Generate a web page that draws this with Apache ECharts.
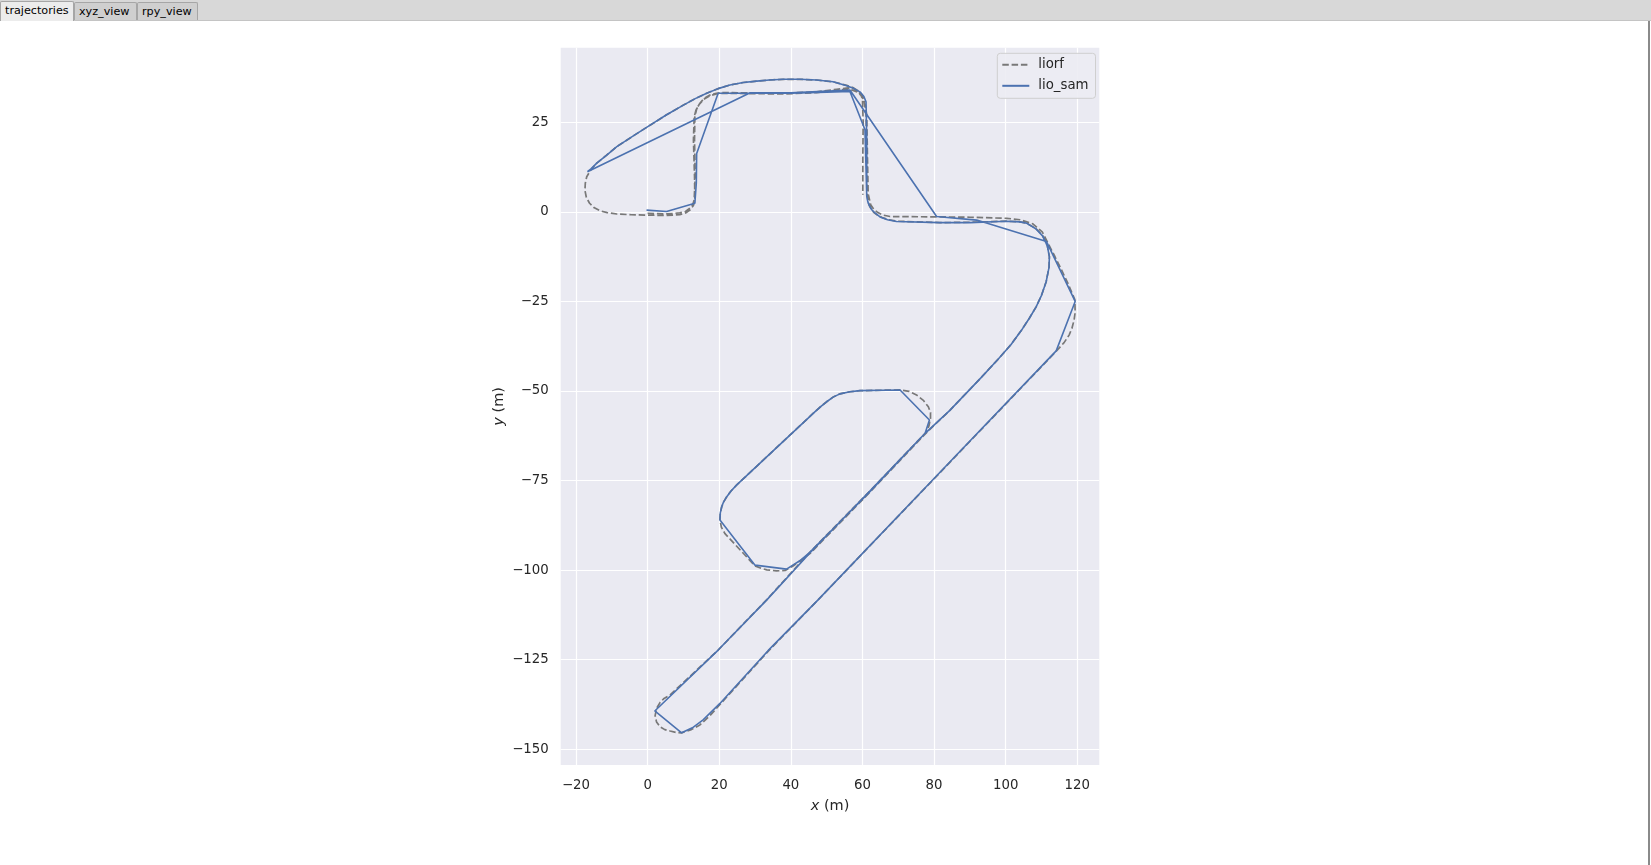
<!DOCTYPE html>
<html>
<head>
<meta charset="utf-8">
<script src="https://cdn.jsdelivr.net/npm/echarts@6/dist/echarts.min.js"></script>
<style>
  html, body { margin:0; padding:0; background:#ffffff; width:1651px; height:865px; overflow:hidden; }
  #chart { position:absolute; left:0; top:0; width:1651px; height:865px; }
  #tabbar { position:absolute; left:0; top:0; width:1651px; height:20px; background:#d8d8d8; border-bottom:1px solid #c4c4c4; z-index:5; font-family:"DejaVu Sans", sans-serif; font-size:11.2px; color:#000; }
  .tab { position:absolute; box-sizing:border-box; border:1px solid #a6a6a6; border-bottom:none; border-radius:2px 2px 0 0; line-height:17px; padding-left:4px; white-space:nowrap; }
  #rightline { position:absolute; left:1648px; top:21px; width:2px; height:844px; background:#8a8a8a; z-index:5; }
</style>
</head>
<body>
<div id="chart"></div>
<div id="tabbar">
  <div class="tab" style="left:0px;top:1px;width:74px;height:20px;background:#ececec;">trajectories</div>
  <div class="tab" style="left:74px;top:2px;width:63px;height:18px;background:#cfcfcf;">xyz_view</div>
  <div class="tab" style="left:137px;top:2px;width:61px;height:18px;background:#cfcfcf;">rpy_view</div>
</div>
<div id="rightline"></div>
<script>
// ---- tick labels ----
const xTicks = [-20, 0, 20, 40, 60, 80, 100, 120];
const yTicks = [-150, -125, -100, -75, -50, -25, 0, 25];

// ---- series names ----
const seriesNames = ['liorf', 'lio_sam'];

// ---- liorf (reference trajectory, dashed): [x, y] in metres ----
const liorfPts = [[0,-0.4],[5,-0.6],[9,-0.3],[10.6,0.1],[11.6,0.9],[12.6,2],[13,3.3],[13.3,10],[13.1,20],[13.2,26.6],[13.7,28.7],[14.6,30.3],[15.8,31.7],[17.4,32.6],[19.2,33.1],[21.1,33.3],[30,33.2],[37.9,33.1],[47.2,33.5],[52.8,34.2],[56,34.6],[57.6,34.4],[58.8,33.8],[59.8,32.8],[60.4,31.5],[61,27],[61.2,15],[61.3,5],[61.5,3.3],[61.8,2],[62.4,0.8],[63.2,-0.2],[64.3,-1],[65.5,-1.6],[67.4,-2.2],[69.5,-2.6],[81.6,-3],[90,-2.9],[100.3,-2.6],[104,-2.8],[105.9,-3.2],[108.4,-4.6],[110.3,-6.6],[111.6,-9.3],[112.2,-12.5],[112.1,-15.5],[111.3,-19.5],[110,-23.3],[108.5,-26.5],[106.6,-29.7],[104.3,-33.2],[101.5,-37],[98,-41],[93,-46.4],[84.4,-55.4],[77.9,-61.6],[62,-78.3],[45.3,-95.4],[42.6,-97.4],[40.5,-98.9],[38.4,-100.1],[36,-100.2],[33.3,-99.9],[31.7,-99.5],[30,-98.8],[25.8,-94.3],[21.6,-89.8],[20.6,-88],[20.2,-86],[20.3,-84],[20.7,-82.3],[21.2,-81],[22.1,-79.5],[23.3,-77.9],[24.9,-76.2],[46.7,-55.8],[48.5,-54.2],[50,-53],[51.8,-51.7],[53.7,-50.8],[56.5,-50.2],[59.3,-49.9],[70.5,-49.7],[73,-50.1],[75.1,-51.1],[77,-52.6],[78.4,-54.4],[79,-56],[79,-57.6],[78.6,-59.6],[77.9,-61.4],[62,-78],[45.3,-95],[33.3,-108.2],[19.7,-122.3],[6.3,-134.8],[4.6,-135.8],[3.5,-136.9],[2.5,-138.6],[2.1,-140.6],[2.5,-142.4],[3.5,-143.7],[4.8,-144.5],[6.3,-144.9],[8,-145.3],[9.5,-145.4],[12.2,-144.5],[14.6,-143.2],[17.4,-140.6],[20.2,-137.5],[33.7,-122.6],[47.6,-108.3],[84.4,-69.9],[114,-39],[116.3,-36.5],[117.7,-34.4],[118.5,-32.5],[119.1,-30.2],[119.4,-28],[119.3,-24.5],[117.5,-20.2],[115.5,-16],[113.8,-12.6],[112.2,-9.5],[110.2,-5.6],[107.5,-3.3],[104,-2.2],[100.3,-1.8],[90,-1.5],[81.6,-1.4],[67.7,-1.3],[65.8,-0.9],[64.3,-0.2],[63.1,0.8],[62.3,2],[61.6,5],[61.4,15],[61.2,27],[60.8,29.7],[60.3,31.4],[59.5,32.6],[58.5,33.5],[57,34],[55.6,34.2],[52.8,34],[47.2,33.3],[37.9,32.9],[30,33],[21.1,33.1],[19.2,32.9],[17.4,32.4],[15.7,31.4],[14.4,30],[13.5,28.4],[13,26.5],[12.8,20],[13.1,10],[13.2,3.5],[12.8,1.8],[11.9,0.6],[10.6,-0.3],[9,-0.8],[5,-1],[0,-0.9],[-4.5,-0.8],[-8.6,-0.6],[-11.3,-0.2],[-13.3,0.3],[-15,1.2],[-16.2,2.4],[-17.1,4],[-17.5,6],[-17.4,8],[-17,9.8],[-15.8,11.8],[-14.2,13.6],[-11.5,15.8],[-8.6,18.2],[-4,21.2],[0.7,24.2],[5.3,27.1],[10,29.8],[13.3,31.6],[16.5,33.1],[19.7,34.4],[23,35.4],[26.7,36.1],[30.5,36.5],[34,36.8],[37.9,37],[42.5,37],[47.2,36.8],[51.8,36.3],[55.6,35.3],[57.3,34.7],[58.6,33.9],[59.5,32.8],[60,31.5],[60.2,25],[60.1,15],[60.1,4.8]];

// ---- lio_sam (solid): [x, y] in metres ----
const lioSamPts = [[-0.3,0.5],[5.3,0.1],[13.2,2.4],[13.6,8],[13.7,16.3],[19.7,33.1],[30,33.1],[40,33.1],[50,33.4],[56.5,33.6],[60.7,22.9],[61,12],[61.2,4.4],[61.5,2.8],[62,1.6],[62.6,0.6],[63.5,-0.3],[64.9,-1.4],[67,-2.2],[69.5,-2.7],[81.6,-3],[90,-3],[100.3,-2.6],[104,-2.8],[105.9,-3.2],[108.4,-4.7],[110.3,-6.7],[111.6,-9.4],[112.2,-12.5],[112.1,-15.5],[111.3,-19.5],[110,-23.3],[108.5,-26.5],[106.6,-29.7],[104.3,-33.2],[101.5,-37],[98,-41],[93,-46.4],[84.4,-55.4],[77.5,-61.8],[62,-78.2],[45.3,-95],[42.6,-97.3],[38.8,-99.7],[30,-98.6],[20.2,-86],[20.3,-84],[20.7,-82.3],[21.2,-81],[22.1,-79.5],[23.3,-77.9],[24.9,-76.2],[46.7,-55.8],[48.5,-54.2],[50,-53],[51.8,-51.7],[53.7,-50.8],[56.5,-50.2],[59.3,-49.9],[70.5,-49.7],[78.7,-58.1],[77.5,-61.8],[62,-78],[45.3,-95.2],[33.3,-108.3],[19.7,-122.3],[2,-139.3],[9.5,-145.4],[12.5,-144],[15.5,-141.8],[20.2,-137.2],[33.7,-122.4],[47.6,-108.3],[84.4,-69.8],[114.1,-38.8],[119.4,-25],[111.4,-8.3],[91.9,-2.3],[80.7,-1.3],[56.5,34],[40,33.2],[28.5,33.2],[-16.8,11.2],[-15.8,12],[-14.2,13.6],[-11.5,15.8],[-8.6,18.2],[-4,21.2],[0.7,24.2],[5.3,27.1],[10,29.8],[13.3,31.6],[16.5,33.1],[19.7,34.4],[23,35.4],[26.7,36.1],[30.5,36.5],[34,36.8],[37.9,37],[42.5,37],[47.2,36.8],[51.8,36.3],[55.6,35.2],[57.6,34.4],[59.3,33.5],[60.4,32.2],[61,30.7],[61.2,20],[61.2,6]];

const FONT = 'DejaVu Sans';
const TXT = '#262626';
const fmt = v => (v < 0 ? '\u2212' + Math.abs(v) : String(v));

const chart = echarts.init(document.getElementById('chart'), null, { renderer: 'canvas' });
chart.setOption({
  animation: false,
  backgroundColor: 'transparent',
  grid: { left: 560.7, top: 47.7, width: 538.6, height: 717.3, show: true, backgroundColor: '#eaeaf2', borderWidth: 0, containLabel: false },
  xAxis: {
    type: 'value', min: -24.27, max: 126.14,
    name: '{i|x} (m)', nameLocation: 'middle', nameGap: 33.5,
    nameTextStyle: { fontFamily: FONT, fontSize: 14.5, color: TXT, rich: { i: { fontFamily: FONT, fontSize: 14.5, fontStyle: 'italic', color: TXT } } },
    axisLine: { show: false },
    axisTick: { show: false, customValues: xTicks },
    axisLabel: { customValues: xTicks, formatter: fmt, margin: 14, fontFamily: FONT, fontSize: 13.3, color: TXT },
    splitLine: { show: true, lineStyle: { color: '#ffffff', width: 1.2 } }
  },
  yAxis: {
    type: 'value', min: -154.38, max: 45.82,
    name: '{i|y} (m)', nameLocation: 'middle', nameGap: 54, nameRotate: 90,
    nameTextStyle: { fontFamily: FONT, fontSize: 14.5, color: TXT, rich: { i: { fontFamily: FONT, fontSize: 14.5, fontStyle: 'italic', color: TXT } } },
    axisLine: { show: false },
    axisTick: { show: false, customValues: yTicks },
    axisLabel: { customValues: yTicks, formatter: fmt, margin: 12, fontFamily: FONT, fontSize: 13.3, color: TXT },
    splitLine: { show: true, lineStyle: { color: '#ffffff', width: 1.2 } }
  },
  legend: {
    data: seriesNames,
    orient: 'vertical', left: 997.3, top: 53.3,
    padding: [5, 7, 6, 4],
    itemWidth: 27, itemHeight: 14, itemGap: 8,
    backgroundColor: 'rgba(236,236,243,0.9)', borderColor: '#cfcfcf', borderWidth: 1, borderRadius: 3,
    selectedMode: false,
    itemStyle: { opacity: 0 },
    textStyle: { fontFamily: FONT, fontSize: 13.3, color: TXT, padding: [0, 0, 0, 4] }
  },
  series: [
    { name: seriesNames[0], type: 'line', data: liorfPts, symbol: 'none', silent: true, z: 2,
      itemStyle: { color: '#787878' },
      lineStyle: { color: '#787878', width: 1.7, type: [6.5, 2.8] } },
    { name: seriesNames[1], type: 'line', data: lioSamPts, symbol: 'none', silent: true, z: 3,
      itemStyle: { color: '#4c72b0' },
      lineStyle: { color: '#4c72b0', width: 1.6 } }
  ]
});
</script>
</body>
</html>
